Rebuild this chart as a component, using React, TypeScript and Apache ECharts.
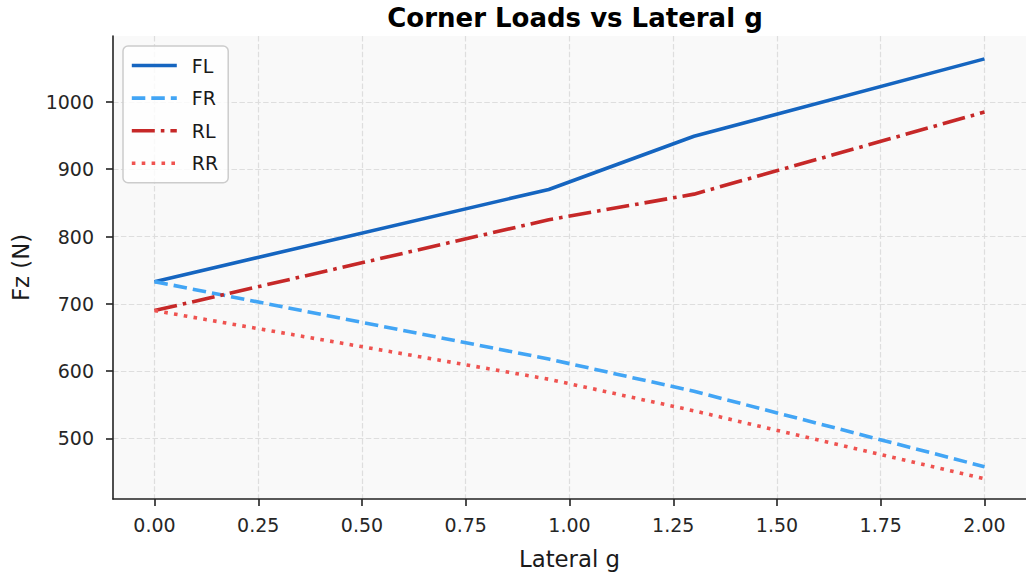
import React, { useEffect, useRef } from "react";
import * as echarts from "echarts";

const lateralG = [0, 0.95, 1.3, 2.0];
const fzFL = [733, 870, 949, 1064];
const fzFR = [733, 618, 570, 458];
const fzRL = [690, 825, 863, 985];
const fzRR = [690, 588, 541, 440];
const seriesNames = ["FL", "FR", "RL", "RR"];
const xTicks = [0, 0.25, 0.5, 0.75, 1.0, 1.25, 1.5, 1.75, 2.0];
const yTicks = [500, 600, 700, 800, 900, 1000];

const FONT = "DejaVu Sans";

export default function App() {
  const ref = useRef<HTMLDivElement>(null);
  useEffect(() => {
    if (!ref.current) return;
    const chart = echarts.init(ref.current, null, { renderer: "svg" });
    const mk = (ys: number[]) => lateralG.map((x, i) => [x, ys[i]]);
    const lw = 3.6;
    const styles = [
      { color: "#1565C0", type: "solid" as any },
      { color: "#42A5F5", type: [13.5, 6] },
      { color: "#C62828", type: [23, 6, 3.6, 6] },
      { color: "#EF5350", type: [3.6, 6.3] },
    ];
    const datas = [fzFL, fzFR, fzRL, fzRR];
    const axisCol = "#222222";
    chart.setOption({
      animation: false,
      backgroundColor: "#ffffff",
      graphic: [
        {
          type: "text",
          x: 575,
          y: 18,
          style: {
            text: "Corner Loads vs Lateral g",
            font: `bold 26px "${FONT}"`,
            fill: "#000000",
            textAlign: "center",
            textVerticalAlign: "middle",
          },
        },
      ],
      grid: {
        left: 113,
        top: 36,
        width: 919,
        height: 463,
        show: true,
        backgroundColor: "#f9f9f9",
        borderWidth: 0,
        containLabel: false,
      },
      legend: {
        data: seriesNames,
        orient: "vertical",
        left: 123,
        top: 46,
        padding: [9, 10, 9, 7],
        itemGap: 11.6,
        itemWidth: 45,
        itemHeight: 21,
        backgroundColor: "rgba(255,255,255,0.8)",
        borderColor: "#cccccc",
        borderWidth: 1.5,
        borderRadius: 5,
        itemStyle: { opacity: 0, borderWidth: 0 },
        lineStyle: { width: lw },
        textStyle: {
          fontFamily: FONT,
          fontSize: 19,
          color: "#1a1a1a",
          padding: [0, 0, 0, 10],
          lineHeight: 21,
        },
      },
      xAxis: {
        type: "value",
        min: -0.1,
        max: 2.1,
        name: "Lateral g",
        nameLocation: "middle",
        nameGap: 48,
        nameTextStyle: { fontFamily: FONT, fontSize: 22.8, color: "#1a1a1a" },
        axisLine: { show: true, onZero: false, lineStyle: { color: axisCol, width: 1.6 } },
        axisTick: {
          show: true,
          length: 7,
          customValues: xTicks,
          lineStyle: { color: axisCol, width: 1.6 },
        },
        axisLabel: {
          customValues: xTicks,
          margin: 16,
          fontFamily: FONT,
          fontSize: 19,
          color: "#262626",
          formatter: (v: number) => v.toFixed(2),
        },
        splitLine: {
          show: true,
          lineStyle: { color: "#dedede", width: 1.2, type: [5.5, 2.4] },
        },
      },
      yAxis: {
        type: "value",
        min: 410,
        max: 1098,
        name: "Fz (N)",
        nameLocation: "middle",
        nameGap: 81,
        nameTextStyle: { fontFamily: FONT, fontSize: 22.8, color: "#1a1a1a" },
        axisLine: { show: true, onZero: false, lineStyle: { color: axisCol, width: 1.6 } },
        axisTick: {
          show: true,
          length: 7,
          customValues: yTicks,
          lineStyle: { color: axisCol, width: 1.6 },
        },
        axisLabel: {
          customValues: yTicks,
          margin: 19,
          fontFamily: FONT,
          fontSize: 19,
          color: "#262626",
          formatter: (v: number) => String(Math.round(v)),
        },
        splitLine: {
          show: true,
          lineStyle: { color: "#dedede", width: 1.2, type: [5.5, 2.4] },
        },
      },
      series: seriesNames.map((name, i) => ({
        name,
        type: "line",
        data: mk(datas[i]),
        symbol: "none",
        showSymbol: false,
        lineStyle: { color: styles[i].color, width: lw, type: styles[i].type, cap: "butt" },
        itemStyle: { color: styles[i].color },
        z: 2 + i,
      })),
    });
    return () => chart.dispose();
  }, []);
  return (
    <div
      ref={ref}
      style={{ position: "absolute", left: 0, top: 0, width: 1026, height: 577 }}
    />
  );
}
